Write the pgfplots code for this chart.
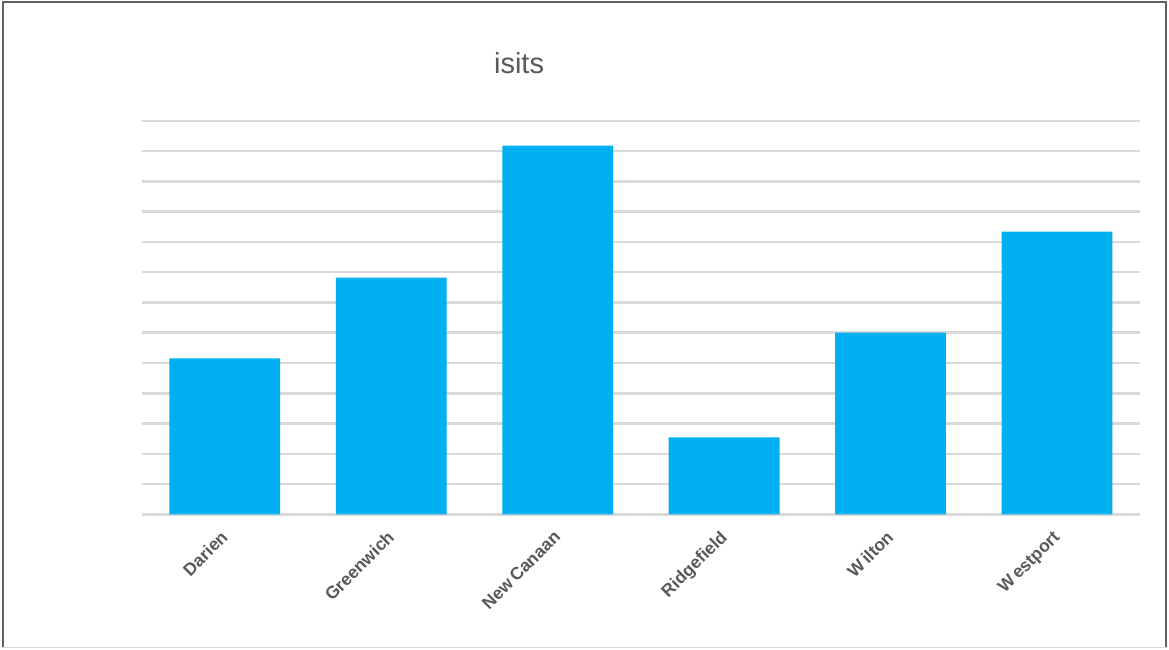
\documentclass[border=0pt]{standalone}
\usepackage{pgfplots}
\pgfplotsset{compat=1.18}
\usepackage{fontspec}
\setmainfont{Liberation Sans}
\definecolor{barblue}{HTML}{00B0F0}
\definecolor{gridgray}{HTML}{D9D9D9}
\definecolor{txtgray}{HTML}{595959}
\definecolor{framegray}{HTML}{606060}
\begin{document}
\begin{tikzpicture}[x=1pt,y=1pt]
\path[fill=white] (0,0) rectangle (1169,649);
\draw[framegray,line width=2pt] (2,0) -- (2,647) -- (1167,647) -- (1167,0);
\draw[gridgray,line width=1.5pt] (0,0.75) -- (1169,0.75);
\node[anchor=base,text=txtgray,font=\fontsize{29}{34}\selectfont] at (519,575) {isits};
\begin{axis}[
  at={(141pt,134pt)}, anchor=south west,
  scale only axis, width=1000pt, height=394pt,
  xmin=-0.5, xmax=5.5, ymin=0, ymax=13,
  ytick={0,1,...,13}, yticklabels={},
  ymajorgrids, grid style={gridgray,line width=2.5pt},
  axis line style={draw=none},
  major tick style={draw=none},
  xtick={0,1,2,3,4,5},
  xticklabels={Darien,Greenwich,New\,Canaan,Ridgefield,W\,ilton,W\,estport},
  xticklabel style={xshift=-5pt,yshift=-15pt,rotate=45,anchor=north east,text=txtgray,font=\bfseries\fontsize{17.5}{21}\selectfont,inner sep=0pt},
  clip=false,
]
\addplot[ybar,bar width=111pt,fill=barblue,draw=none] coordinates {
(0,5.15) (1,7.82) (2,12.18) (3,2.54) (4,6.0) (5,9.34)};
\end{axis}
\end{tikzpicture}
\end{document}
